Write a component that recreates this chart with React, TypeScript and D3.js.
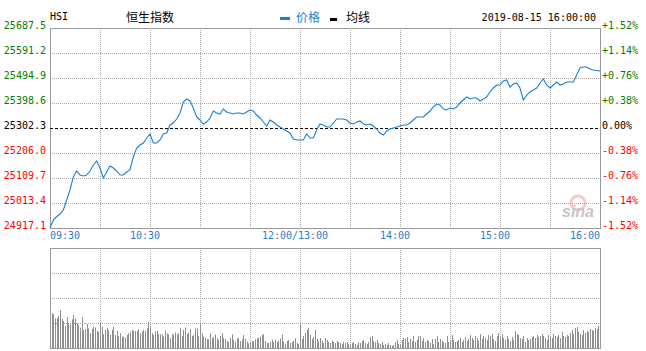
import React from 'react';
import * as d3 from 'd3';

// HSI intraday, 2019-08-15
const prevClose = 25302.3;
const priceTicks = [24917.1, 25013.4, 25109.7, 25206.0, 25302.3, 25398.6, 25494.9, 25591.2, 25687.5];
const pctTicks = ['-1.52%', '-1.14%', '-0.76%', '-0.38%', '0.00%', '+0.38%', '+0.76%', '+1.14%', '+1.52%'];
const timeLabels = ['09:30', '10:30', '12:00/13:00', '14:00', '15:00', '16:00'];
const timeLabelMinutes = [0, 60, 150, 210, 270, 330];
const gridMinutes = [30, 60, 90, 120, 150, 180, 210, 240, 270, 300];

// price sampled every 2 trading minutes (09:30 .. 16:00, lunch removed)
const prices = [
  24917.1, 24947.9, 24961.4, 24971.0, 24986.4, 25025.0, 25063.5, 25113.6, 25136.7, 25121.3,
  25117.4, 25121.3, 25136.7, 25159.8, 25175.2, 25148.2, 25109.7, 25132.8, 25155.9, 25148.2,
  25136.7, 25121.3, 25121.3, 25132.8, 25140.5, 25190.6, 25225.3, 25236.8, 25244.5, 25263.8,
  25279.2, 25244.5, 25244.5, 25256.1, 25279.2, 25283.0, 25313.9, 25321.6, 25337.0, 25360.1,
  25402.5, 25414.0, 25406.3, 25379.3, 25344.7, 25333.1, 25317.7, 25325.4, 25340.8, 25367.8,
  25360.1, 25356.2, 25375.5, 25363.9, 25360.1, 25356.2, 25360.1, 25360.1, 25356.2, 25363.9,
  25371.6, 25367.8, 25352.4, 25340.8, 25325.4, 25310.0, 25333.1, 25325.4, 25313.9, 25306.2,
  25298.4, 25290.7, 25283.0, 25259.9, 25256.1, 25256.1, 25256.1, 25279.2, 25263.8, 25263.8,
  25294.6, 25317.7, 25313.9, 25306.2, 25306.2, 25321.6, 25337.0, 25337.0, 25337.0, 25333.1,
  25321.6, 25317.7, 25325.4, 25329.3, 25317.7, 25313.9, 25317.7, 25310.0, 25298.4, 25283.0,
  25275.3, 25290.7, 25298.4, 25302.3, 25306.2, 25310.0, 25313.9, 25313.9, 25321.6, 25333.1,
  25344.7, 25344.7, 25344.7, 25356.2, 25367.8, 25383.2, 25394.7, 25390.9, 25375.5, 25371.6,
  25379.3, 25375.5, 25383.2, 25398.6, 25410.2, 25421.7, 25414.0, 25417.9, 25417.9, 25406.3,
  25414.0, 25421.7, 25441.0, 25456.4, 25467.9, 25467.9, 25483.3, 25487.2, 25460.2, 25471.8,
  25475.6, 25456.4, 25410.2, 25429.4, 25441.0, 25448.7, 25456.4, 25475.6, 25491.0, 25467.9,
  25456.4, 25467.9, 25479.5, 25467.9, 25471.8, 25479.5, 25479.5, 25479.5, 25506.5, 25533.4,
  25537.3, 25537.3, 25529.6, 25525.7, 25523.8, 25521.9,
];

// volume per minute (relative units)
const volumes = [
  55.7, 34.7, 34, 29.7, 30, 32, 38, 29, 27, 22,
  31, 24.7, 23.7, 28.7, 33, 29.7, 24.7, 23, 20.3, 31,
  18, 19, 24, 19.7, 14.7, 19, 21.3, 20.3, 17.3, 16.3,
  25.7, 21.3, 13.7, 18, 20.3, 17.7, 13, 18, 21.3, 13,
  17, 12, 14.7, 11.3, 11.3, 10.3, 13, 14.7, 16.3, 18,
  17.3, 17, 17, 19, 14.7, 16.3, 18, 17.3, 19.7, 26.3,
  21.3, 14.7, 13, 16.3, 17, 14, 13.7, 13.7, 11.3, 17.3,
  14.7, 13.7, 9.7, 13.7, 13.7, 15.7, 13.7, 14.7, 19.7, 12,
  18, 20.7, 14, 15.3, 19, 12, 13, 19.7, 19.7, 12,
  24, 14.7, 11.3, 10, 9, 8.7, 14.7, 10, 11, 13.7,
  9.7, 8, 12, 14.7, 10, 9, 7, 6, 10, 13.7,
  8, 6.3, 9.7, 9.7, 7, 8.7, 13, 9, 6.3, 4.7,
  6, 7, 7, 8.7, 9.7, 10.3, 11.3, 13, 13.7, 7,
  5, 5, 6, 8.3, 6, 8.3, 6.3, 7, 9.7, 13.7,
  6.3, 4.3, 7, 8, 5, 6, 7, 9.7, 5, 4,
  23, 9, 12, 15, 18, 20, 13, 9, 11, 18,
  9, 7, 10, 7, 5, 10, 8, 6, 5, 7,
  6, 5, 7, 6, 5, 4, 6, 5, 6, 4,
  3, 5, 6, 4, 3, 6, 5, 7, 8, 5,
  4, 6, 11, 12, 7, 6, 8, 5, 4, 6,
  3, 4, 3, 5, 3, 2, 3, 6, 8, 4,
  3, 8, 10, 9, 11, 6, 9, 7, 12, 6,
  8, 12, 12, 7, 10, 6, 8, 7, 5, 9,
  4, 9, 12, 6, 9, 7, 6, 5, 12, 6,
  8, 13, 8, 6, 7, 8, 10, 6, 8, 11,
  7, 9, 13, 10, 8, 12, 10, 7, 14, 9,
  12, 10, 8, 13, 12, 14, 9, 7, 12, 15,
  11, 14, 10, 8, 12, 9, 7, 11, 8, 17,
  14, 13, 10, 9, 12, 6, 10, 8, 9, 11,
  12, 10, 13, 11, 12, 14, 12, 10, 8, 13,
  11, 10, 14, 12, 11, 13, 10, 16, 12, 11,
  13, 12, 15, 18, 14, 20, 21, 16, 14, 13,
  18, 15, 17, 16, 19, 18, 17, 20, 19, 22,
  25,
];

const MONO = '"DejaVu Sans Mono", monospace';
const CJK = '"Noto Sans CJK SC", sans-serif';
const BLUE = '#1a80d0';
const GRID = '#aaaaaa';

function tickColor(p: number) {
  if (Math.abs(p - prevClose) < 0.01) return '#000';
  return p > prevClose ? '#008000' : '#ff0000';
}

export default function App() {
  const left = 50, right = 600;
  const x = d3.scaleLinear().domain([0, 330]).range([left, right]);
  const y = d3.scaleLinear().domain([priceTicks[0], priceTicks[priceTicks.length - 1]]).range([228, 28]);
  const yv = d3.scaleLinear().domain([0, 100]).range([348, 248]);
  const volTicks = [25, 50, 75];

  const pricePath = d3.line<number>()
    .x((d, i) => x(i * 2))
    .y((d) => y(d))(prices) || '';

  return (
    <svg width={646} height={351} style={{ position: 'absolute', left: 0, top: 0, background: '#fff' }}>
      {/* header */}
      <text x={50} y={20} fontFamily={MONO} fontSize={10} fill="#000">HSI</text>
      <text x={126} y={22} fontFamily={CJK} fontSize={12} fill="#000">恒生指数</text>
      <rect x={280} y={17} width={10} height={3} fill={BLUE} />
      <text x={296} y={22} fontFamily={CJK} fontSize={12} fill={BLUE}>价格</text>
      <rect x={330} y={18} width={7} height={3} fill="#000" />
      <text x={346} y={22} fontFamily={CJK} fontSize={12} fill="#000">均线</text>
      <text x={596} y={21} textAnchor="end" fontFamily={MONO} fontSize={10} fill="#000">2019-08-15 16:00:00</text>

      {/* price grid */}
      {priceTicks.slice(1, -1).filter((p) => p !== prevClose).map((p) => (
        <line key={'h' + p} x1={left} x2={right} y1={Math.round(y(p)) + 0.5} y2={Math.round(y(p)) + 0.5}
          stroke={GRID} strokeDasharray="1,1" />
      ))}
      {gridMinutes.map((m) => (
        <line key={'v' + m} x1={Math.round(x(m)) + 0.5} x2={Math.round(x(m)) + 0.5} y1={28} y2={228}
          stroke={GRID} strokeDasharray="1,1" />
      ))}
      <rect x={left + 0.5} y={28.5} width={right - left} height={200} fill="none" stroke="#999" />

      {/* sina watermark */}
      <g opacity={0.55}>
        <circle cx={578} cy={203} r={7} fill="none" stroke="#f2a0a0" strokeWidth={3} />
        <text x={562} y={217} fontFamily="Liberation Sans, sans-serif" fontStyle="italic" fontWeight="bold"
          fontSize={16} fill="#999">sina</text>
      </g>

      {/* prev close */}
      <line x1={left} x2={right} y1={Math.round(y(prevClose)) + 0.5} y2={Math.round(y(prevClose)) + 0.5}
        stroke="#000" strokeDasharray="3,2" />

      <path d={pricePath} fill="none" stroke={BLUE} strokeWidth={1.1} />

      {/* axis labels */}
      {priceTicks.map((p) => (
        <text key={'l' + p} x={46} y={Math.round(y(p)) + 1} textAnchor="end" fontFamily={MONO} fontSize={10}
          fill={tickColor(p)}>{p.toFixed(1)}</text>
      ))}
      {priceTicks.map((p, i) => (
        <text key={'r' + p} x={602} y={Math.round(y(p)) + 1} fontFamily={MONO} fontSize={10}
          fill={tickColor(p)}>{pctTicks[i]}</text>
      ))}
      {timeLabels.map((t, i) => {
        const m = timeLabelMinutes[i];
        const anchor = i === 0 ? 'start' : i === timeLabels.length - 1 ? 'end' : 'middle';
        const tx = i === 0 ? x(m) : i === timeLabels.length - 1 ? x(m) : x(m) - 5;
        return (
          <text key={t} x={tx} y={239} textAnchor={anchor} fontFamily={MONO} fontSize={10} fill={BLUE}>{t}</text>
        );
      })}

      {/* volume panel */}
      {volTicks.map((v) => (
        <line key={'vh' + v} x1={left} x2={right} y1={yv(v) + 0.5} y2={yv(v) + 0.5} stroke={GRID} strokeDasharray="1,1" />
      ))}
      {gridMinutes.map((m) => (
        <line key={'vv' + m} x1={Math.round(x(m)) + 0.5} x2={Math.round(x(m)) + 0.5} y1={248} y2={348}
          stroke={GRID} strokeDasharray="1,1" />
      ))}
      {volumes.map((v, m) => (
        <rect key={'b' + m} x={Math.round(x(m))} y={yv(v)} width={1} height={348 - yv(v)} fill="#909090" />
      ))}
      <rect x={left + 0.5} y={248.5} width={right - left} height={100} fill="none" stroke="#999" />
    </svg>
  );
}
